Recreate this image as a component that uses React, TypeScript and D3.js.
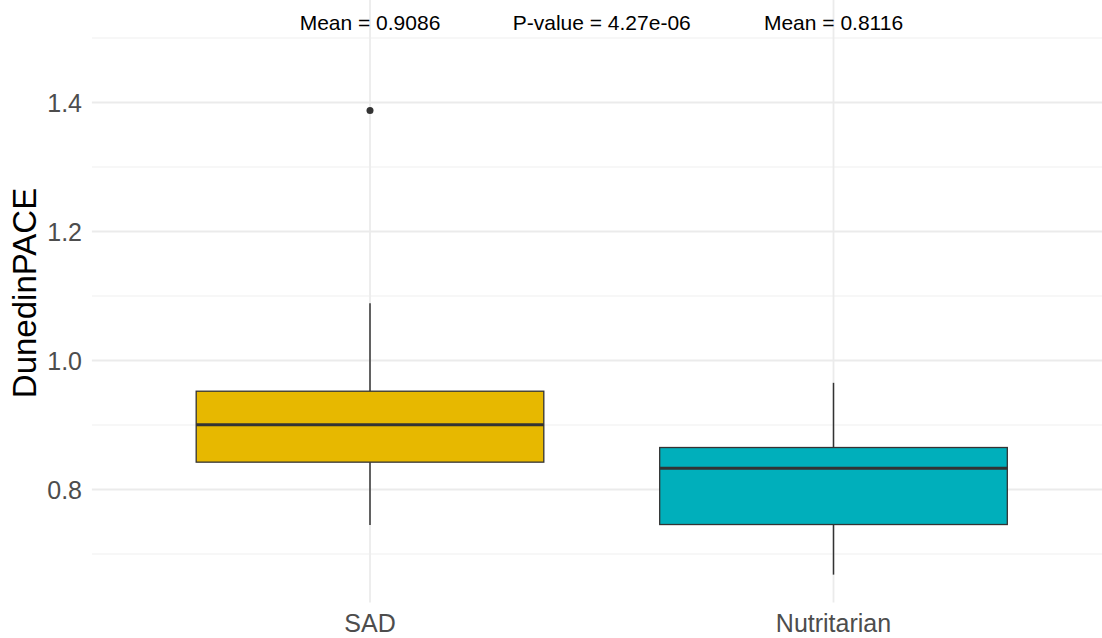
import React from "react";
import * as d3 from "d3";

// Groups and their five-number summaries (DunedinPACE)
const categories = ["SAD", "Nutritarian"];
const fills = ["#E7B800", "#00AFBB"];
const whiskerLow = [0.745, 0.668];
const q1 = [0.8424, 0.7457];
const medians = [0.9003, 0.833];
const q3 = [0.9524, 0.8651];
const whiskerHigh = [1.0888, 0.9654];
const outliers: number[][] = [[1.3876], []];
const means = [0.9086, 0.8116];
const pValueLabel = "P-value = 4.27e-06";

const majorTicks = [0.8, 1.0, 1.2, 1.4];
const minorTicks = [0.7, 0.9, 1.1, 1.3, 1.5];

const W = 1102;
const H = 638;
const FONT = "'Liberation Sans', Arial, Helvetica, sans-serif";

export default function App() {
  const y = d3.scaleLinear().domain([0.7, 1.4]).range([554, 102.5]);
  const x = d3.scalePoint<string>().domain(categories).range([370, 833.5]);
  const step = x(categories[1])! - x(categories[0])!;
  const boxW = 0.75 * step;
  const panelLeft = x(categories[0])! - 0.6 * step;
  const panelRight = x(categories[1])! + 0.6 * step;
  const panelTop = y(1.567);
  const panelBottom = y(0.625);

  return (
    <svg
      width={W}
      height={H}
      style={{ position: "absolute", left: 0, top: 0, background: "#fff" }}
      fontFamily={FONT}
    >
      {/* grid */}
      {minorTicks.map((t) => (
        <line key={"mi" + t} x1={panelLeft} x2={panelRight} y1={y(t)} y2={y(t)} stroke="#F0F0F0" strokeWidth={1.1} />
      ))}
      {majorTicks.map((t) => (
        <line key={"ma" + t} x1={panelLeft} x2={panelRight} y1={y(t)} y2={y(t)} stroke="#EBEBEB" strokeWidth={1.8} />
      ))}
      {categories.map((c) => (
        <line key={"v" + c} x1={x(c)} x2={x(c)} y1={panelTop} y2={panelBottom} stroke="#EBEBEB" strokeWidth={1.8} />
      ))}

      {/* boxes */}
      {categories.map((c, i) => {
        const cx = x(c)!;
        return (
          <g key={c}>
            <line x1={cx} x2={cx} y1={y(whiskerHigh[i])} y2={y(q3[i])} stroke="#333333" strokeWidth={1.5} />
            <line x1={cx} x2={cx} y1={y(q1[i])} y2={y(whiskerLow[i])} stroke="#333333" strokeWidth={1.5} />
            <rect
              x={cx - boxW / 2}
              y={y(q3[i])}
              width={boxW}
              height={y(q1[i]) - y(q3[i])}
              fill={fills[i]}
              stroke="#333333"
              strokeWidth={1.3}
            />
            <line x1={cx - boxW / 2} x2={cx + boxW / 2} y1={y(medians[i])} y2={y(medians[i])} stroke="#333333" strokeWidth={3} />
            {outliers[i].map((o, j) => (
              <circle key={j} cx={cx} cy={y(o)} r={3.5} fill="#333333" />
            ))}
          </g>
        );
      })}

      {/* annotations */}
      {categories.map((c, i) => (
        <text key={"m" + c} x={x(c)} y={30} textAnchor="middle" fontSize={21} fill="#000">
          {`Mean = ${means[i].toFixed(4)}`}
        </text>
      ))}
      <text x={(x(categories[0])! + x(categories[1])!) / 2} y={30} textAnchor="middle" fontSize={21} fill="#000">
        {pValueLabel}
      </text>

      {/* y axis */}
      {majorTicks.map((t) => (
        <text key={"yt" + t} x={82} y={y(t)} dy="0.36em" textAnchor="end" fontSize={25} fill="#4D4D4D">
          {d3.format(".1f")(t)}
        </text>
      ))}
      <text
        transform={`translate(36,293) rotate(-90)`}
        textAnchor="middle"
        fontSize={33}
        fill="#000"
      >
        DunedinPACE
      </text>

      {/* x axis */}
      {categories.map((c) => (
        <text key={"xt" + c} x={x(c)} y={632} textAnchor="middle" fontSize={25} fill="#4D4D4D">
          {c}
        </text>
      ))}
    </svg>
  );
}
